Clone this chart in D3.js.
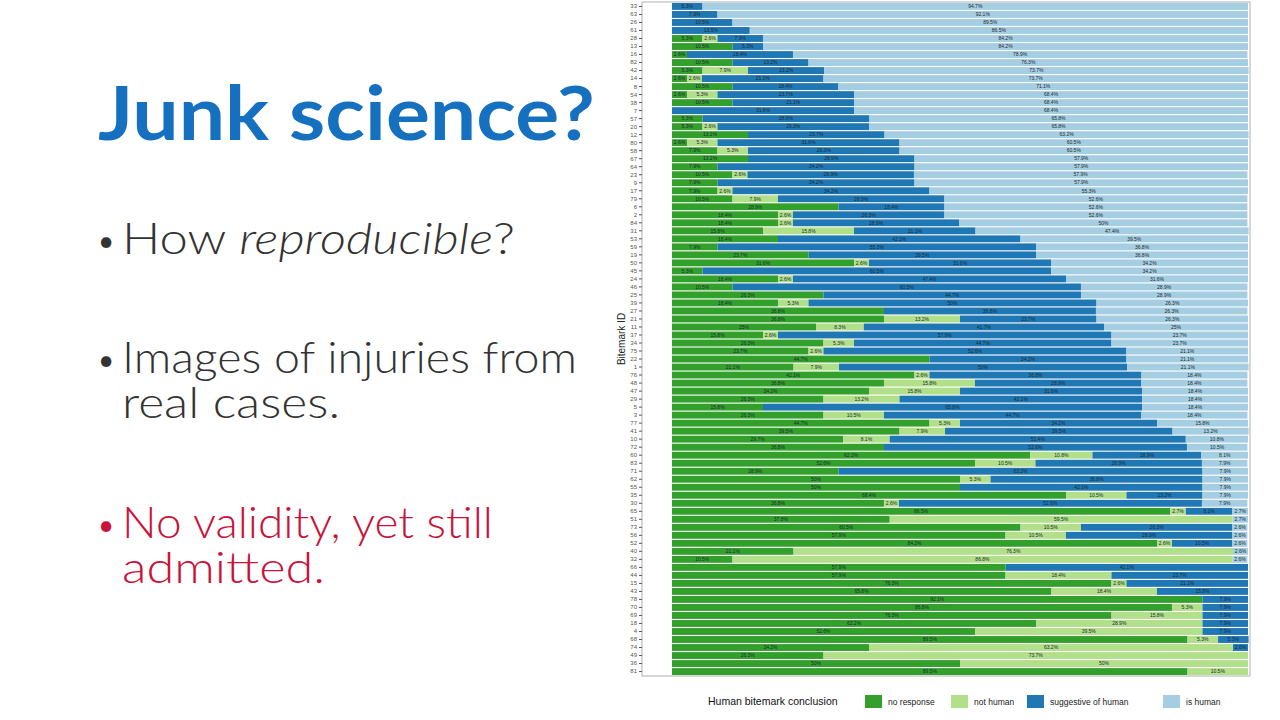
<!DOCTYPE html>
<html>
<head>
<meta charset="utf-8">
<script src="https://cdn.jsdelivr.net/npm/d3@7"></script>
<style>
  body { margin: 0; background: #fff; }
  svg { display: block; }
</style>
</head>
<body>
<div id="slide"></div>
<script>
// define data (top row first)
const ids = ["33","63","26","61","28","13","16","82","42","14","8","54","38","7","57","20","12","80","58","67","64","23","9","17","79","6","2","84","31","53","59","19","50","45","24","46","25","39","27","21","11","37","34","75","22","1","76","48","47","29","5","3","77","41","10","72","60","83","71","62","55","35","30","65","51","73","56","52","40","32","66","44","15","43","78","70","69","18","4","68","74","49","36","81"];
const noResponse = [0,0,0,0,5.3,10.5,2.6,10.5,5.3,2.6,10.5,2.6,10.5,0,5.3,5.3,13.2,2.6,7.9,13.2,7.9,10.5,7.9,7.9,10.5,28.9,18.4,18.4,15.8,18.4,7.9,23.7,31.6,5.3,18.4,10.5,26.3,18.4,36.8,36.8,25,15.8,26.3,23.7,44.7,21.1,42.1,36.8,34.2,26.3,15.8,26.3,44.7,39.5,29.7,36.8,62.2,52.6,28.9,50,50,68.4,36.8,86.5,37.8,60.5,57.9,84.2,21.1,10.5,57.9,57.9,76.3,65.8,92.1,86.8,76.3,63.2,52.6,89.5,34.2,26.3,50,89.5];
const notHuman = [0,0,0,0,2.6,0,0,0,7.9,2.6,0,5.3,0,0,0,2.6,0,5.3,5.3,0,0,2.6,0,2.6,7.9,0,2.6,2.6,15.8,0,0,0,2.6,0,2.6,0,0,5.3,0,13.2,8.3,2.6,5.3,2.6,0,7.9,2.6,15.8,15.8,13.2,0,10.5,5.3,7.9,8.1,0,10.8,10.5,0,5.3,0,10.5,2.6,2.7,59.5,10.5,10.5,2.6,76.3,86.8,0,18.4,2.6,18.4,0,5.3,15.8,28.9,39.5,5.3,63.2,73.7,50,10.5];
const suggestive = [5.3,7.9,10.5,13.5,7.9,5.3,18.4,13.2,13.2,21.1,18.4,23.7,21.1,31.6,28.9,26.3,23.7,31.6,26.3,28.9,34.2,28.9,34.2,34.2,28.9,18.4,26.3,28.9,21.1,42.1,55.3,39.5,31.6,60.5,47.4,60.5,44.7,50,36.8,23.7,41.7,57.9,44.7,52.6,34.2,50,36.8,28.9,31.6,42.1,65.8,44.7,34.2,39.5,51.4,52.6,18.9,28.9,63.2,36.8,42.1,13.2,52.6,8.1,0,26.3,28.9,10.5,0,0,42.1,23.7,21.1,15.8,7.9,7.9,7.9,7.9,7.9,5.3,2.6,0,0,0];
const isHuman = [94.7,92.1,89.5,86.5,84.2,84.2,78.9,76.3,73.7,73.7,71.1,68.4,68.4,68.4,65.8,65.8,63.2,60.5,60.5,57.9,57.9,57.9,57.9,55.3,52.6,52.6,52.6,50,47.4,39.5,36.8,36.8,34.2,34.2,31.6,28.9,28.9,26.3,26.3,26.3,25,23.7,23.7,21.1,21.1,21.1,18.4,18.4,18.4,18.4,18.4,18.4,15.8,13.2,10.8,10.5,8.1,7.9,7.9,7.9,7.9,7.9,7.9,2.7,2.7,2.6,2.6,2.6,2.6,2.6,0,0,0,0,0,0,0,0,0,0,0,0,0,0];
const conclusions = ["no response", "not human", "suggestive of human", "is human"];
const colors = ["#33a02c", "#b2df8a", "#1f78b4", "#a6cee3"];

// define constants
const w = 1280;
const h = 720;
const panel = { left: 642, right: 1250, top: 2, bottom: 676 };

const svg = d3.select("#slide").append("svg").attr("width", w).attr("height", h);

// slide text on the left
svg.append("text")
    .attr("x", 98).attr("y", 140)
    .attr("font-family", "Lato, 'Open Sans', sans-serif")
    .attr("font-weight", 700)
    .attr("font-size", 74)
    .attr("fill", "#1670c0")
    .attr("textLength", 497).attr("lengthAdjust", "spacingAndGlyphs")
    .text("Junk science?");

// each bullet: first baseline, lines and their widths on the slide
const bullets = [
    { y: 254, lines: ["How |reproducible|?"], len: [393], color: "#333333" },
    { y: 373, lines: ["Images of injuries from", "real cases."], len: [455, 218], color: "#333333" },
    { y: 538, lines: ["No validity, yet still", "admitted."], len: [371, 203], color: "#c8143c" }
];
bullets.forEach((b) => {
    svg.append("text")
        .attr("x", 98).attr("y", b.y - 3)
        .attr("font-family", "Lato, sans-serif").attr("font-size", 28)
        .attr("fill", b.color).text("•");
    const t = svg.append("text")
        .attr("x", 122).attr("y", b.y)
        .attr("font-family", "Lato, sans-serif").attr("font-weight", 300)
        .attr("font-size", 43).attr("fill", b.color);
    b.lines.forEach((line, i) => {
        const ln = t.append("tspan")
            .attr("x", 122).attr("dy", i === 0 ? 0 : 45)
            .attr("textLength", b.len[i]).attr("lengthAdjust", "spacingAndGlyphs");
        // "|" marks where the italic part starts and ends
        line.split("|").forEach((part, k) => {
            ln.append("tspan").attr("font-style", k % 2 ? "italic" : "normal").text(part);
        });
    });
});

// build rows and stack
const rows = ids.map((id, i) => ({
    id: id,
    "no response": noResponse[i],
    "not human": notHuman[i],
    "suggestive of human": suggestive[i],
    "is human": isHuman[i]
}));
const series = d3.stack().keys(conclusions)(rows);

// define scales
const xScale = d3.scaleLinear().domain([0, 100]).range([672, 1248]);
const yScale = d3.scaleBand().domain(ids).range([panel.top + 1, panel.bottom - 1]).paddingInner(0.14);
const color = d3.scaleOrdinal().domain(conclusions).range(colors);

// panel frame
svg.append("rect")
    .attr("x", panel.left).attr("y", panel.top)
    .attr("width", panel.right - panel.left).attr("height", panel.bottom - panel.top)
    .attr("fill", "#fff").attr("stroke", "#b0b0b0").attr("stroke-width", 1);

// bars
const groups = svg.append("g").selectAll("g")
    .data(series).join("g")
    .attr("fill", (d) => color(d.key));

groups.selectAll("rect")
    .data((d) => d.filter((s) => s[1] - s[0] > 0))
    .join("rect")
    .attr("x", (d) => xScale(d[0]))
    .attr("y", (d) => yScale(d.data.id))
    .attr("width", (d) => xScale(d[1]) - xScale(d[0]))
    .attr("height", yScale.bandwidth());

// segment labels
groups.selectAll("text")
    .data((d) => d.filter((s) => s[1] - s[0] > 0))
    .join("text")
    .attr("x", (d) => (xScale(d[0]) + xScale(d[1])) / 2)
    .attr("y", (d) => yScale(d.data.id) + yScale.bandwidth() / 2)
    .attr("dy", "0.35em")
    .attr("text-anchor", "middle")
    .attr("font-family", "'Liberation Sans', Arial, sans-serif")
    .attr("font-size", 5)
    .attr("fill", "#1c2a33")
    .text((d) => d3.format("~")(+(d[1] - d[0]).toFixed(1)) + "%");

// y axis
const yAxis = d3.axisLeft(yScale).tickSize(3).tickPadding(2);
const gy = svg.append("g")
    .attr("transform", "translate(" + panel.left + ",0)")
    .call(yAxis);
gy.select(".domain").remove();
gy.selectAll(".tick line").attr("stroke", "#555");
gy.selectAll(".tick text")
    .attr("font-family", "'Liberation Sans', Arial, sans-serif")
    .attr("font-size", 6)
    .attr("fill", "#555");

svg.append("text")
    .attr("transform", "translate(625,339) rotate(-90)")
    .attr("text-anchor", "middle")
    .attr("font-family", "'Liberation Sans', Arial, sans-serif")
    .attr("font-size", 10)
    .attr("fill", "#222")
    .text("Bitemark ID");

// legend
const legend = svg.append("g");
legend.append("text")
    .attr("x", 708).attr("y", 705)
    .attr("font-family", "'Liberation Sans', Arial, sans-serif")
    .attr("font-size", 10.5).attr("fill", "#111")
    .text("Human bitemark conclusion");
const legendX = [865, 951, 1027, 1163];
conclusions.forEach((c, i) => {
    legend.append("rect")
        .attr("x", legendX[i]).attr("y", 695)
        .attr("width", 17).attr("height", 13)
        .attr("fill", color(c));
    legend.append("text")
        .attr("x", legendX[i] + 23).attr("y", 705)
        .attr("font-family", "'Liberation Sans', Arial, sans-serif")
        .attr("font-size", 8.5).attr("fill", "#222")
        .text(c);
});
</script>
</body>
</html>
